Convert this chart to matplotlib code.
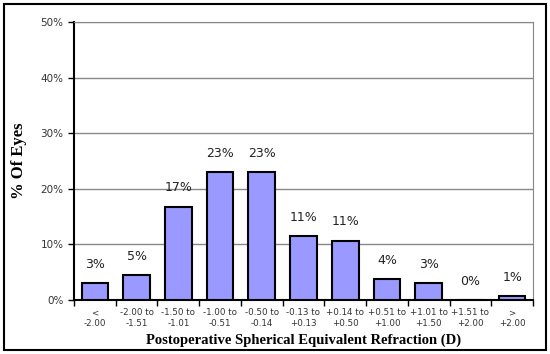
import matplotlib.pyplot as plt
import numpy as np
from matplotlib.patches import Rectangle

# data
categories = ["<\n-2.00", "-2.00 to\n-1.51", "-1.50 to\n-1.01", "-1.00 to\n-0.51",
              "-0.50 to\n-0.14", "-0.13 to\n+0.13", "+0.14 to\n+0.50", "+0.51 to\n+1.00",
              "+1.01 to\n+1.50", "+1.51 to\n+2.00", ">\n+2.00"]
values = [3.0, 4.5, 16.8, 23.0, 23.0, 11.5, 10.7, 3.7, 3.0, 0.0, 0.7]
labels = ["3%", "5%", "17%", "23%", "23%", "11%", "11%", "4%", "3%", "0%", "1%"]
yticks = [0, 10, 20, 30, 40, 50]

fig = plt.figure(figsize=(5.5, 3.54), dpi=100)
ax = fig.add_axes([74/550, 1 - 300/354, (533-74)/550, (300-22)/354])

x = np.arange(len(categories))
ax.bar(x, values, width=0.64, color="#9999ff", edgecolor="black", linewidth=1.5, zorder=3)
for xi, v, lab in zip(x, values, labels):
    ax.text(xi, v + 2.2, lab, ha="center", va="bottom", fontsize=9, color="#222222")

ax.set_xlim(-0.5, len(categories) - 0.5)
ax.set_ylim(0, 50)
ax.set_yticks(yticks)
ax.set_yticklabels([f"{t}%" for t in yticks], fontsize=7.5, color="#333333")
ax.yaxis.grid(True, color="#888888", linewidth=1, zorder=0)
ax.tick_params(axis="y", length=4, width=1)

ax.set_xticks(x)
ax.set_xticklabels(categories, fontsize=6.3, color="#333333", linespacing=1.3)
ax.set_xticks(np.arange(-0.5, len(categories)), minor=True)
ax.tick_params(axis="x", which="major", length=0, pad=6)
ax.tick_params(axis="x", which="minor", length=4, width=1)

for side in ["top", "right"]:
    ax.spines[side].set_color("#888888")
for side in ["left", "bottom"]:
    ax.spines[side].set_linewidth(1.5)

ax.set_xlabel("Postoperative Spherical Equivalent Refraction (D)", fontsize=10.5,
              fontweight="bold", family="Liberation Serif", labelpad=4)
ax.set_ylabel("% Of Eyes", fontsize=12, fontweight="bold", family="Liberation Serif",
              labelpad=10)

fig.patches.append(Rectangle((4/550, 4/354), 542/550, 346/354, transform=fig.transFigure,
                             fill=False, edgecolor="black", linewidth=1.5))

fig.savefig("out.png", dpi=100)
